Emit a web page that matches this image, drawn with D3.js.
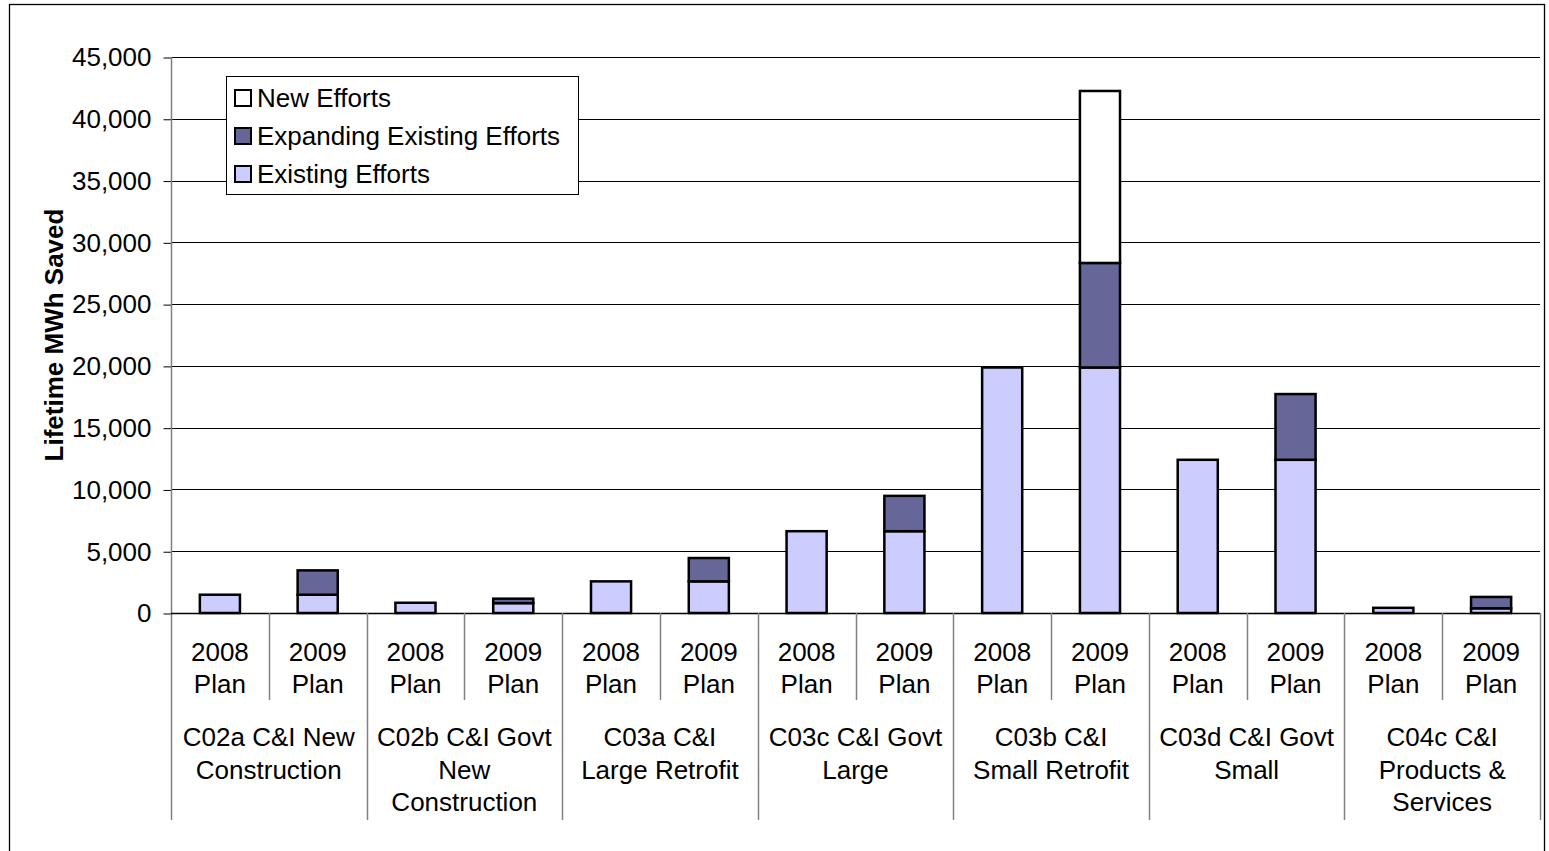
<!DOCTYPE html>
<html>
<head>
<meta charset="utf-8">
<script src="https://cdn.jsdelivr.net/npm/d3@7"></script>
<style>
  html, body { margin: 0; padding: 0; background: #fff; }
  svg { display: block; font-family: "Liberation Sans", Arial, sans-serif; }
</style>
</head>
<body>
<svg id="chart" width="1549" height="851"></svg>
<script>
// ---- data ----
const groupLabels = [
  ["C02a C&I New", "Construction"],
  ["C02b C&I Govt", "New", "Construction"],
  ["C03a C&I", "Large Retrofit"],
  ["C03c C&I Govt", "Large"],
  ["C03b C&I", "Small Retrofit"],
  ["C03d C&I Govt", "Small"],
  ["C04c C&I", "Products &", "Services"]
];
const planLabels = [["2008", "Plan"], ["2009", "Plan"]];
const existingEfforts  = [1480, 1480, 830, 800, 2560, 2560, 6620, 6620, 19870, 19870, 12400, 12400, 420, 380];
const expandingEfforts = [0, 1970, 0, 360, 0, 1890, 0, 2860, 0, 8460, 0, 5320, 0, 920];
const newEfforts       = [0, 0, 0, 0, 0, 0, 0, 0, 0, 13920, 0, 0, 0, 0];
const seriesNames = ["New Efforts", "Expanding Existing Efforts", "Existing Efforts"];
const yTicks = [0, 5000, 10000, 15000, 20000, 25000, 30000, 35000, 40000, 45000];
const yTitle = "Lifetime MWh Saved";

// ---- layout ----
(function () {
const svg = d3.select("#chart");
const pL = 171, pR = 1540, pT = 57, pB = 613;
const FONT = 26;
const colors = { "Existing Efforts": "#CCCCFF", "Expanding Existing Efforts": "#666699", "New Efforts": "#FFFFFF" };

// outer border
svg.append("rect").attr("x", 9.5).attr("y", 4.5).attr("width", 1535).attr("height", 850)
  .attr("fill", "#fff").attr("stroke", "#000").attr("stroke-width", 1.3);

const slots = d3.range(existingEfforts.length);
const x = d3.scaleBand().domain(slots).range([pL, pR]).padding(0);
const y = d3.scaleLinear().domain([0, 45000]).range([pB, pT]);

// gridlines
svg.append("g").selectAll("line").data(yTicks.filter(d => d > 0)).join("line")
  .attr("x1", pL).attr("x2", pR)
  .attr("y1", d => Math.round(y(d)) + 0.5).attr("y2", d => Math.round(y(d)) + 0.5)
  .attr("stroke", "#000").attr("stroke-width", 1);

// y axis
const yAxis = d3.axisLeft(y).tickValues(yTicks).tickSize(8).tickPadding(12)
  .tickFormat(d3.format(","));
const gy = svg.append("g").attr("transform", `translate(${pL + 0.5},0.5)`).call(yAxis);
gy.select(".domain").remove();
gy.selectAll(".tick line").attr("stroke", "#000");
gy.selectAll(".tick text").attr("font-size", FONT).attr("fill", "#000")
  .attr("font-family", "Liberation Sans, Arial, sans-serif");
// y axis line (extends down through the category area)
svg.append("line").attr("x1", pL + 0.5).attr("x2", pL + 0.5).attr("y1", pT).attr("y2", 820)
  .attr("stroke", "#808080").attr("stroke-width", 1.5);

// y title
svg.append("text")
  .attr("transform", `translate(${63},${(pT + pB) / 2}) rotate(-90)`)
  .attr("text-anchor", "middle").attr("font-size", FONT).attr("font-weight", "bold")
  .text(yTitle);

// stacked bars
const rows = slots.map(i => ({
  i, "Existing Efforts": existingEfforts[i],
  "Expanding Existing Efforts": expandingEfforts[i],
  "New Efforts": newEfforts[i]
}));
const stackKeys = ["Existing Efforts", "Expanding Existing Efforts", "New Efforts"];
const stacked = d3.stack().keys(stackKeys)(rows);
const barW = x.bandwidth() * 0.41;
stacked.forEach(layer => {
  svg.append("g").selectAll("rect").data(layer.filter(d => d[1] - d[0] > 0)).join("rect")
    .attr("x", d => x(d.data.i) + (x.bandwidth() - barW) / 2)
    .attr("width", barW)
    .attr("y", d => y(d[1]))
    .attr("height", d => y(d[0]) - y(d[1]))
    .attr("fill", colors[layer.key])
    .attr("stroke", "#000").attr("stroke-width", 2.5);
});

// category axis baseline
svg.append("line").attr("x1", pL).attr("x2", pR).attr("y1", pB + 0.5).attr("y2", pB + 0.5)
  .attr("stroke", "#000").attr("stroke-width", 1.5);

// separators
const bounds = d3.range(existingEfforts.length + 1);
svg.append("g").selectAll("line").data(bounds.slice(1)).join("line")
  .attr("x1", d => Math.round(pL + d * x.step()) + 0.5)
  .attr("x2", d => Math.round(pL + d * x.step()) + 0.5)
  .attr("y1", pB)
  .attr("y2", d => d % 2 === 0 ? 820 : 700)
  .attr("stroke", "#808080").attr("stroke-width", 1.5);

// plan labels
slots.forEach(i => {
  const t = svg.append("text").attr("text-anchor", "middle").attr("font-size", FONT);
  planLabels[i % 2].forEach((line, k) => {
    t.append("tspan").attr("x", x(i) + x.bandwidth() / 2).attr("y", 661 + k * 32).text(line);
  });
});

// group labels
groupLabels.forEach((lines, g) => {
  const cx = pL + (2 * g + 1) * x.step();
  const t = svg.append("text").attr("text-anchor", "middle").attr("font-size", FONT);
  lines.forEach((line, k) => {
    t.append("tspan").attr("x", cx).attr("y", 746 + k * 32.5).text(line);
  });
});

// legend
const lg = svg.append("g");
lg.append("rect").attr("x", 226.5).attr("y", 76.5).attr("width", 352).attr("height", 118)
  .attr("fill", "#fff").attr("stroke", "#000").attr("stroke-width", 1);
seriesNames.forEach((name, k) => {
  const cy = 98 + k * 38;
  lg.append("rect").attr("x", 235).attr("y", cy - 8).attr("width", 16).attr("height", 16)
    .attr("fill", colors[name]).attr("stroke", "#000").attr("stroke-width", 2);
  lg.append("text").attr("x", 257).attr("y", cy).attr("dy", "0.35em")
    .attr("font-size", FONT).text(name);
});
})();
</script>
</body>
</html>
